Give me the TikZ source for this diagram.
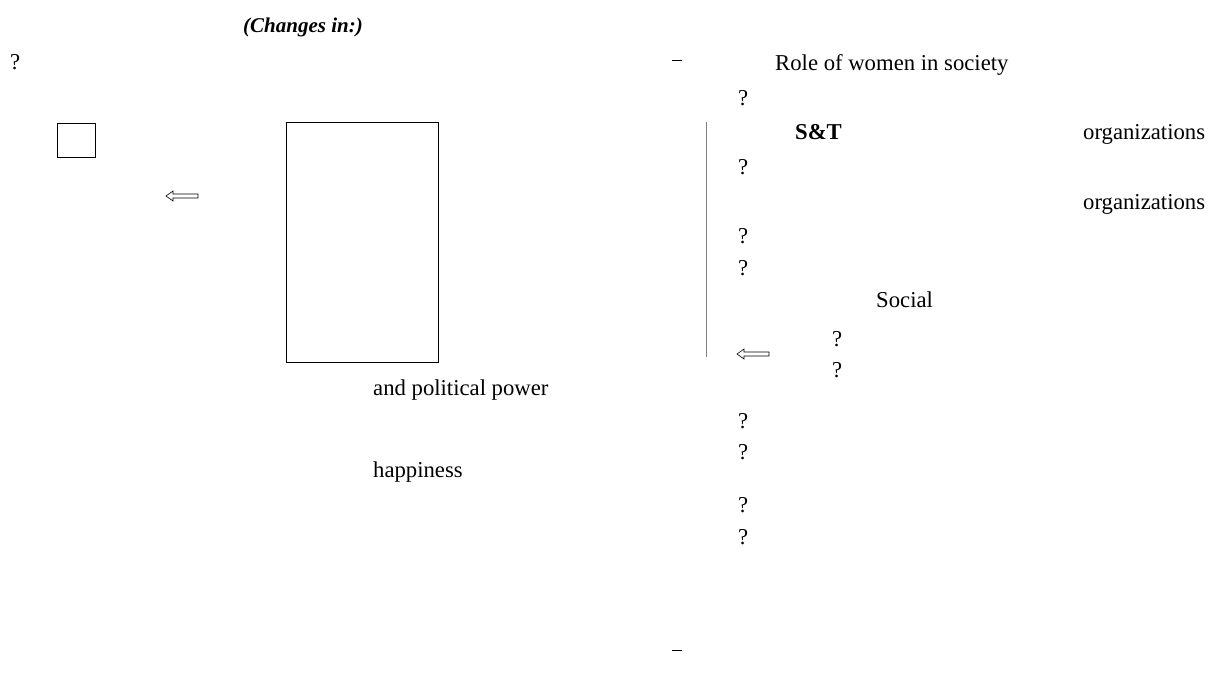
\documentclass[tikz,border=0pt]{standalone}
\usepackage{fontspec}
\setmainfont{Liberation Serif}
\begin{document}
\begin{tikzpicture}[x=1pt,y=-1pt,
  txt/.style={anchor=base west,inner sep=0pt,font=\fontsize{22.7}{27}\selectfont},
  box/.style={draw,line width=0.8pt},
  harrow/.style={draw,line width=0.6pt,fill=white}]
\useasboundingbox (0,0) rectangle (1212,688);
% title
\node[txt,font=\fontsize{21}{25}\selectfont\bfseries\itshape] (title) at (243,32) {(Changes in:)};
% left part
\node[txt] (q0) at (10,69) {?};
\node[box,minimum width=38pt,minimum height=34pt,inner sep=0pt] (sq) at (76,140) {};
\node[box,minimum width=152pt,minimum height=240pt,inner sep=0pt] (big) at (362,242) {};
\node[txt] (pol) at (373,395) {and political power};
\node[txt] (hap) at (373,477) {happiness};
% hollow arrow left
\draw[harrow] (166,196) -- (173,191) -- (173,194) -- (198,194) -- (198,198) -- (173,198) -- (173,201) -- cycle;
% right part
\draw[line width=0.5pt] (672,60) -- (682,60);
\node[txt] (role) at (775,70) {Role of women in society};
\draw[gray,line width=1pt] (706,122) -- (706,357);
\node[txt] (r1) at (738,105) {?};
\node[txt,font=\fontsize{22.7}{27}\selectfont\bfseries] (st) at (795,139) {S\&T};
\node[txt] (org1) at (1083,139) {organizations};
\node[txt] (r2) at (738,174) {?};
\node[txt] (org2) at (1083,209) {organizations};
\node[txt] (r3) at (738,243) {?};
\node[txt] (r4) at (738,275) {?};
\node[txt] (soc) at (876,307) {Social};
\node[txt] (s1) at (832,346) {?};
\node[txt] (s2) at (832,377) {?};
\draw[harrow] (737,354) -- (744,349) -- (744,352) -- (769,352) -- (769,356) -- (744,356) -- (744,359) -- cycle;
\node[txt] (r5) at (738,428) {?};
\node[txt] (r6) at (738,459) {?};
\node[txt] (r7) at (738,512) {?};
\node[txt] (r8) at (738,544) {?};
\draw[line width=0.5pt] (672,650) -- (682,650);
\end{tikzpicture}
\end{document}
